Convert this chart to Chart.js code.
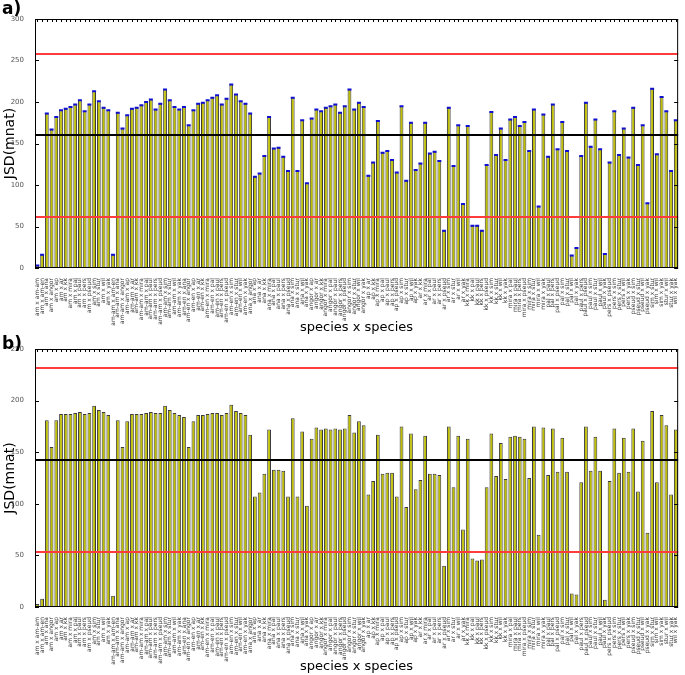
<!DOCTYPE html>
<html>
<head>
<meta charset="utf-8">
<script src="https://cdn.jsdelivr.net/npm/chart.js@4.4.0/dist/chart.umd.min.js"></script>
<style>
  body { margin: 0; background: #fff; }
  .panel { position: absolute; left: 0; width: 685px; }
  .tag { position: absolute; left: 2px; font: bold 17px "DejaVu Sans", sans-serif; }
</style>
</head>
<body>
<div class="panel" style="top:0"><canvas id="chartA" width="685" height="338"></canvas></div>
<div class="panel" style="top:338px"><canvas id="chartB" width="685" height="337"></canvas></div>
<div class="tag" style="top:-2px">a)</div>
<div class="tag" style="top:333px">b)</div>
<script>
// ---- data ----
const species = ['am', 'am-am', 'am-en', 'ana', 'angor', 'ap', 'ar', 'kk', 'mira',
                 'pal', 'paul', 'pers', 'pseud', 'sim', 'stur', 'wil', 'yak'];

// panel a, one value per pair (same order as the labels)
const jsdA = [
  3, 16, 186, 167, 182, 190, 192, 194, 197, 202, 189, 197, 213, 201, 193, 190,
  16, 187, 168, 184, 192, 193, 196, 200, 203, 191, 198, 215, 202, 194, 191,
  194, 172, 190, 198, 199, 202, 205, 208, 197, 204, 221, 209, 201, 198,
  186, 110, 114, 135, 182, 144, 145, 134, 117, 205, 117, 178, 102,
  180, 191, 189, 193, 195, 197, 187, 195, 215, 191, 199, 194,
  111, 127, 177, 139, 141, 130, 115, 195, 105, 175, 118,
  126, 175, 138, 140, 129, 45, 193, 123, 172, 77,
  171, 51, 51, 45, 124, 188, 136, 168, 130,
  179, 182, 171, 176, 141, 191, 74, 185,
  134, 197, 143, 176, 141, 15, 24,
  135, 199, 146, 179, 143, 17,
  127, 189, 136, 168, 133,
  193, 124, 172, 78,
  216, 137, 206,
  189, 117,
  178
];

// panel b
const jsdB = [
  3, 8, 181, 155, 181, 187, 187, 187, 188, 189, 187, 188, 195, 191, 189, 186,
  11, 181, 155, 180, 187, 187, 187, 188, 189, 188, 188, 195, 191, 188, 186,
  184, 155, 180, 186, 186, 187, 188, 188, 186, 188, 196, 190, 188, 186,
  167, 107, 111, 129, 172, 133, 133, 132, 107, 183, 107, 170, 98,
  163, 174, 172, 173, 172, 173, 172, 173, 186, 169, 180, 176,
  109, 122, 167, 129, 130, 130, 107, 175, 97, 168, 114,
  123, 166, 129, 129, 128, 40, 175, 116, 166, 75,
  163, 47, 45, 46, 116, 168, 127, 159, 124,
  165, 166, 165, 163, 125, 175, 70, 174,
  128, 173, 131, 164, 131, 13, 12,
  121, 175, 132, 165, 132, 7,
  122, 173, 130, 164, 131,
  173, 112, 161, 72,
  190, 121, 186,
  176, 109,
  172
];

// reference lines: [value, colour]
const linesA = [[258, '#ff3b3b'], [160, '#000000'], [61, '#ff3b3b']];
const linesB = [[232, '#ff3b3b'], [142, '#000000'], [53, '#ff3b3b']];

// category labels "x y" for every pair
const pairLabels = [];
for (let i = 0; i < species.length; i++) {
  for (let j = i + 1; j < species.length; j++) {
    pairLabels.push(species[i] + ' x ' + species[j]);
  }
}

// ---- plugin: horizontal lines, inward tick marks, plot frame ----
const refLines = {
  id: 'refLines',
  afterDatasetsDraw(chart, args, opts) {
    const { ctx, chartArea: a, scales: { x, y } } = chart;
    ctx.save();
    ctx.lineWidth = 2;
    opts.lines.forEach(([v, c]) => {
      const py = Math.round(y.getPixelForValue(v));
      ctx.strokeStyle = c;
      ctx.beginPath();
      ctx.moveTo(a.left, py);
      ctx.lineTo(a.right, py);
      ctx.stroke();
    });

    // small inward ticks like matplotlib
    ctx.lineWidth = 1;
    ctx.strokeStyle = '#000';
    ctx.beginPath();
    x.ticks.forEach((t, i) => {
      const px = Math.round(x.getPixelForTick(i)) + 0.5;
      ctx.moveTo(px, a.top); ctx.lineTo(px, a.top + 3);
    });
    y.ticks.forEach(t => {
      const py = Math.round(y.getPixelForValue(t.value)) + 0.5;
      ctx.moveTo(a.left, py); ctx.lineTo(a.left + 4, py);
      ctx.moveTo(a.right, py); ctx.lineTo(a.right - 4, py);
    });
    ctx.stroke();

    ctx.strokeRect(a.left + 0.5, a.top + 0.5, a.width - 1, a.height - 1);
    ctx.restore();
  }
};

function makeChart(id, values, lines, yMax, padTop, axisH, titlePad, caps) {
  const datasets = [{
    type: 'bar',
    data: values,
    backgroundColor: '#bfbf00',
    borderColor: '#3a3a3a',
    borderWidth: 1,
    barPercentage: 0.8,
    categoryPercentage: 1.0,
    order: 2
  }];
  if (caps) {
    datasets.push({
      type: 'line',
      data: values,
      showLine: false,
      pointStyle: 'line',
      pointRadius: 2,
      pointBorderWidth: 2,
      pointBorderColor: '#1010d0',
      order: 1
    });
  }
  return new Chart(document.getElementById(id), {
    type: 'bar',
    data: { labels: pairLabels, datasets },
    options: {
      responsive: false,
      animation: false,
      layout: { padding: { top: padTop, right: 2, left: 0, bottom: 0 } },
      plugins: { legend: { display: false }, tooltip: { enabled: false }, refLines: { lines } },
      scales: {
        x: {
          grid: { display: false },
          border: { display: false },
          ticks: {
            autoSkip: false, minRotation: 90, maxRotation: 90, padding: 2,
            color: '#333', font: { family: 'DejaVu Sans', size: 6 }
          },
          title: {
            display: true, text: 'species x species', color: '#000',
            font: { family: 'DejaVu Sans', size: 13 }, padding: { top: 0, bottom: titlePad }
          },
          afterFit: s => { s.height = axisH; }
        },
        y: {
          min: 0, max: yMax,
          grid: { display: false },
          border: { display: false },
          ticks: { stepSize: 50, padding: 3, color: '#555', font: { family: 'DejaVu Sans', size: 7 } },
          title: {
            display: true, text: 'JSD(mnat)', color: '#000',
            font: { family: 'DejaVu Sans', size: 14 }, padding: { top: 2, bottom: 0 }
          },
          afterFit: s => { s.width = 35; }
        }
      }
    },
    plugins: [refLines]
  });
}

makeChart('chartA', jsdA, linesA, 300, 19, 70, 3, true);
makeChart('chartB', jsdB, linesB, 250, 11, 68, 1, false);
</script>
</body>
</html>
